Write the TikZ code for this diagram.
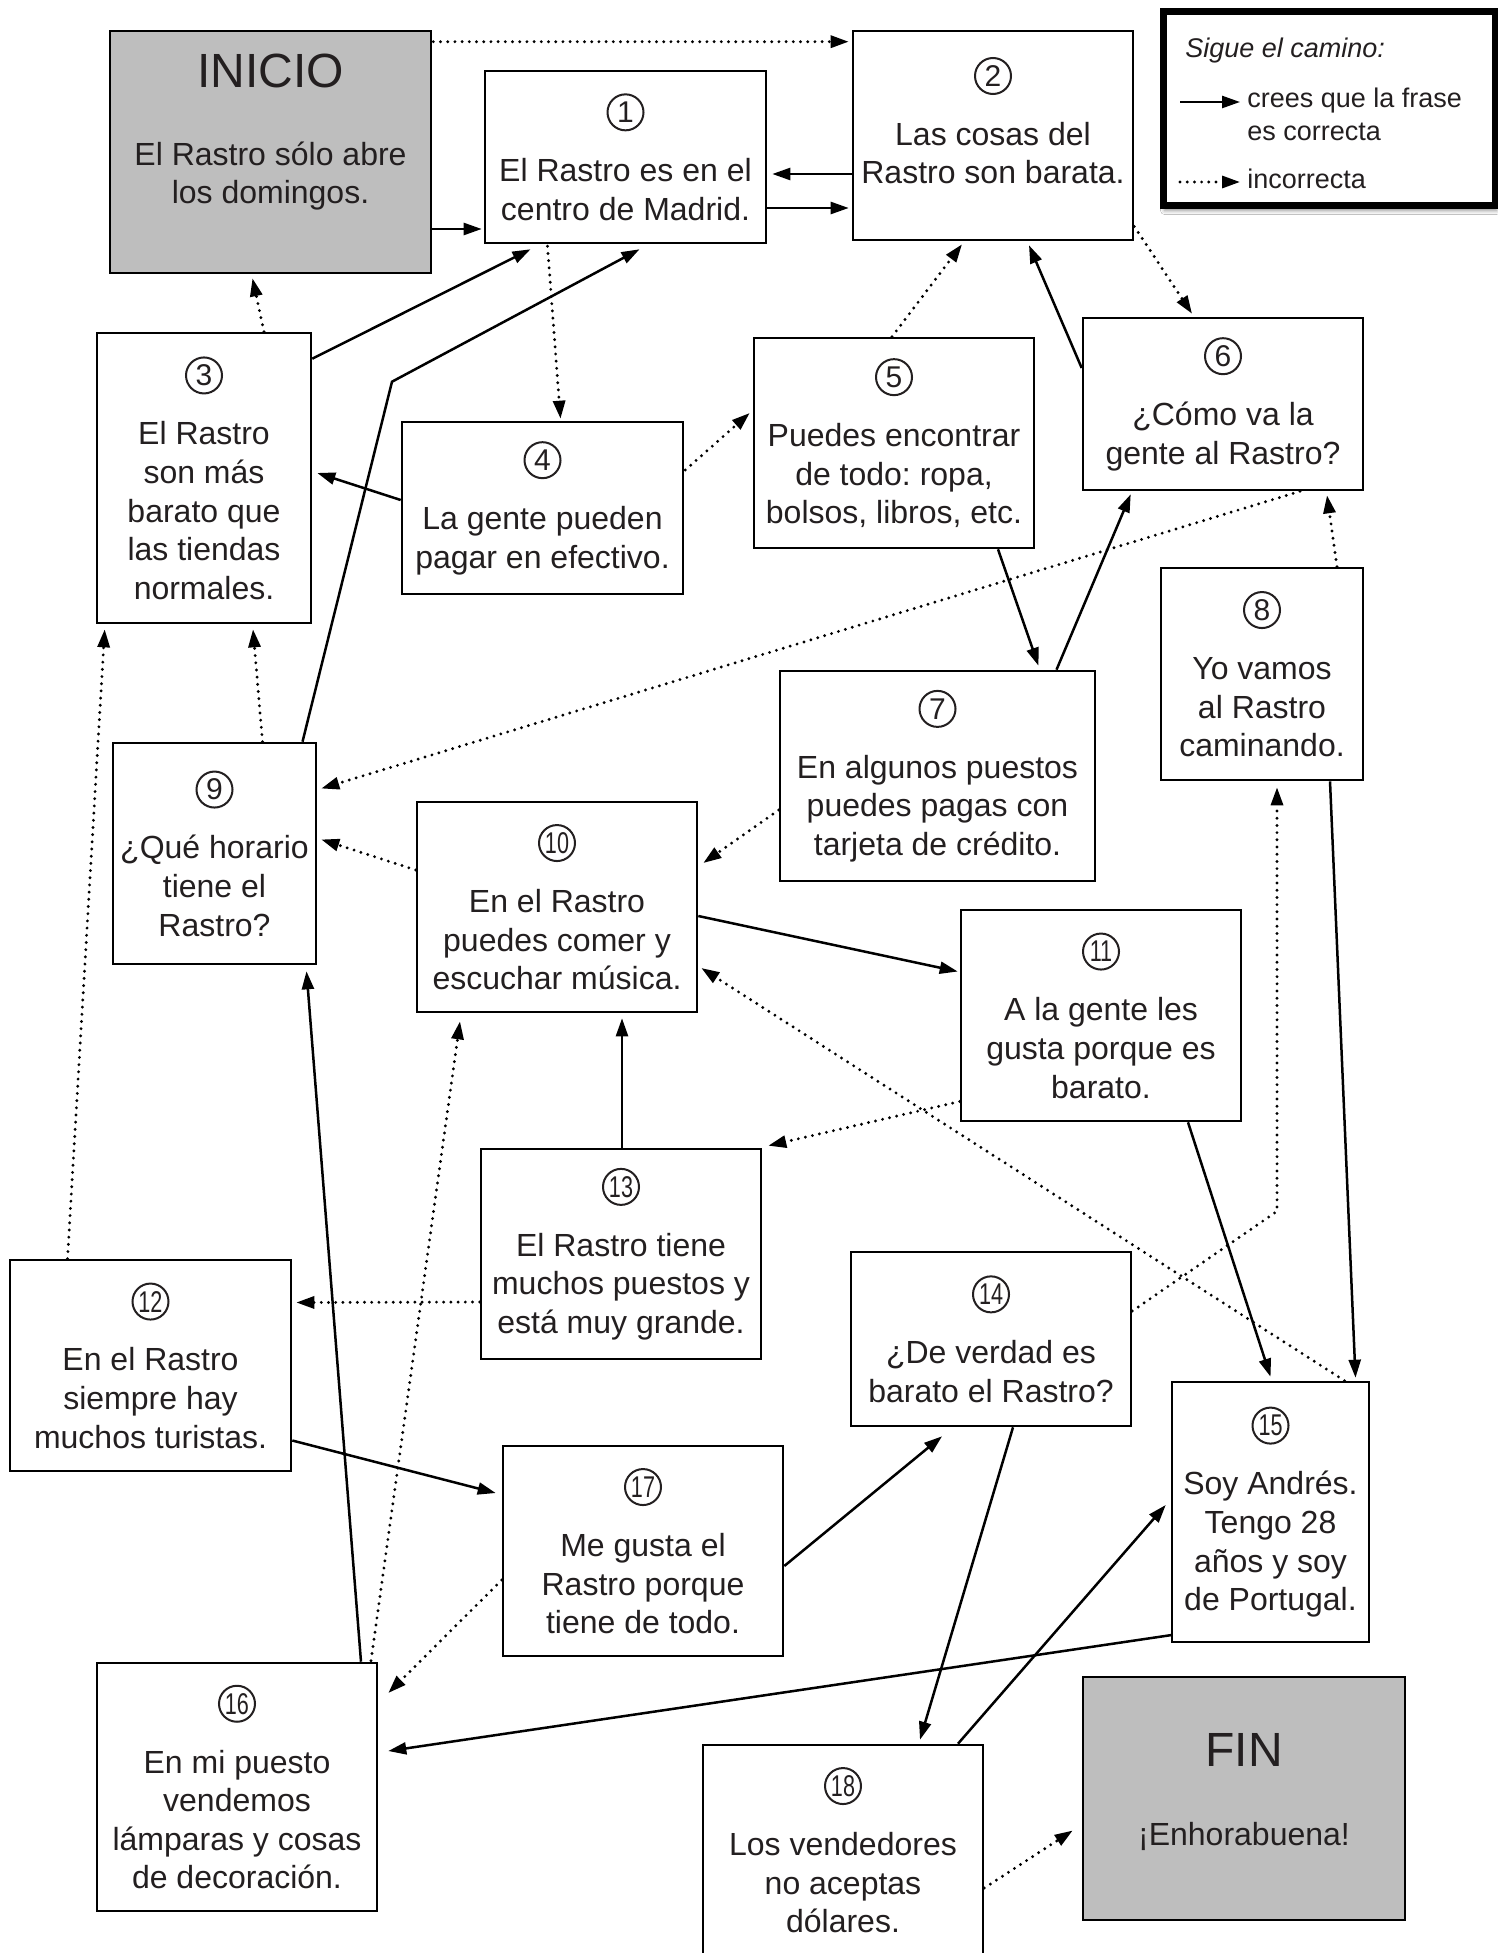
\documentclass[tikz,border=0pt]{standalone}
\usepackage{graphicx}
\usepackage{fontspec}
\setmainfont{Liberation Sans}
\frenchspacing
\usetikzlibrary{arrows.meta,calc,shadows.blur}
\definecolor{boxgray}{RGB}{190,190,190}
\definecolor{ink}{RGB}{35,31,32}
\newcommand{\circnum}[1]{\tikz[baseline={([yshift=-5.7pt]cn.center)}]
  \node[circle,draw,line width=1pt,minimum size=18pt,inner sep=0pt,
    font=\fontsize{15}{15}\selectfont] (cn)
    {\ifnum#1>9 \scalebox{0.72}[1]{#1}\else #1\fi};}

\begin{document}
\begin{tikzpicture}[x=0.5pt,y=-0.5pt,
    card/.style={draw,line width=1.3pt,align=center,inner sep=0pt,text=ink,
      font=\fontsize{16}{19.3}\selectfont,minimum width=140pt,minimum height=105pt},
    endcard/.style={card,fill=boxgray},
    ok/.style={line width=1.25pt,-{Triangle[length=9pt,width=6pt]}},
    nope/.style={line width=1.6pt,line cap=round,dash pattern=on 0pt off 3.6pt,
      -{Triangle[length=9pt,width=6pt]}},
    legtext/.style={text=ink,font=\fontsize{13.5}{16.5}\selectfont,align=left,inner sep=0pt}]
  %% Page
  \path[use as bounding box,fill=white] (0,0) rectangle (1498,1953);

  %% Legend
  \node[draw,line width=3.5pt,fill=white,minimum width=166pt,minimum height=97pt,inner sep=0pt,
    blur shadow={shadow xshift=0.5pt,shadow yshift=-2.5pt,shadow blur radius=2pt,shadow opacity=45}]
    (legend) at (1329.5,108.5) {};
  \node[legtext,anchor=west] (lgtitle) at (1185,51) {\itshape Sigue el camino:};
  \node[legtext,anchor=west] (lgok) at (1247,114) {crees que la frase\\es correcta};
  \node[legtext,anchor=west] (lgnope) at (1247,179) {incorrecta};
  \coordinate (lgokA) at (1180,102);
  \coordinate (lgokB) at (1240,102);
  \coordinate (lgnopeA) at (1180,182);
  \coordinate (lgnopeB) at (1240,182);
  \draw[ok] (lgokA) -- (lgokB);
  \draw[nope] (lgnopeA) -- (lgnopeB);

  %% Start and end
  \node[endcard,minimum width=160.5pt,minimum height=121pt,text depth=23pt] (inicio) at (270.5,152)
    {{\fontsize{24}{28}\selectfont INICIO}\\[19.3pt]El Rastro sólo abre\\los domingos.};
  \node[endcard,minimum width=161pt,minimum height=121.5pt,text depth=9pt] (fin) at (1244,1798.5)
    {{\fontsize{24}{28}\selectfont FIN}\\[19.8pt]¡Enhorabuena!};

  %% Cards
  \node[card,minimum width=140.5pt,minimum height=86pt] (b1) at (625.5,157)
    {\circnum{1}\\[9.7pt]El Rastro es en el\\centro de Madrid.};
  \node[card,minimum height=104.5pt,text depth=15pt] (b2) at (993,135.5)
    {\circnum{2}\\[9.7pt]Las cosas del\\Rastro son barata.};
  \node[card,minimum width=107pt,minimum height=145pt] (b3) at (204,478)
    {\circnum{3}\\[9.7pt]El Rastro\\son más\\barato que\\las tiendas\\normales.};
  \node[card,minimum width=140.5pt,minimum height=86pt] (b4) at (542.5,508)
    {\circnum{4}\\[9.7pt]La gente pueden\\pagar en efectivo.};
  \node[card] (b5) at (894,443)
    {\circnum{5}\\[9.7pt]Puedes encontrar\\de todo: ropa,\\bolsos, libros, etc.};
  \node[card,minimum height=86pt] (b6) at (1223,404)
    {\circnum{6}\\[9.7pt]¿Cómo va la\\gente al Rastro?};
  \node[card,minimum width=157.5pt] (b7) at (937.5,776)
    {\circnum{7}\\[9.7pt]En algunos puestos\\puedes pagas con\\tarjeta de crédito.};
  \node[card,minimum width=101pt,minimum height=106pt] (b8) at (1262,674)
    {\circnum{8}\\[9.7pt]Yo vamos\\al Rastro\\caminando.};
  \node[card,minimum width=101.5pt,minimum height=110.5pt] (b9) at (214.5,853.5)
    {\circnum{9}\\[9.7pt]¿Qué horario\\tiene el\\Rastro?};
  \node[card] (b10) at (557,907)
    {\circnum{10}\\[9.7pt]En el Rastro\\puedes comer y\\escuchar música.};
  \node[card,minimum height=105.5pt] (b11) at (1101,1015.5)
    {\circnum{11}\\[9.7pt]A la gente les\\gusta porque es\\barato.};
  \node[card,minimum width=140.5pt,minimum height=105.5pt] (b12) at (150.5,1365.5)
    {\circnum{12}\\[9.7pt]En el Rastro\\siempre hay\\muchos turistas.};
  \node[card] (b13) at (621,1254)
    {\circnum{13}\\[9.7pt]El Rastro tiene\\muchos puestos y\\está muy grande.};
  \node[card,minimum height=87pt] (b14) at (991,1339)
    {\circnum{14}\\[9.7pt]¿De verdad es\\barato el Rastro?};
  \node[card,minimum width=98.5pt,minimum height=130pt] (b15) at (1270.5,1512)
    {\circnum{15}\\[9.7pt]Soy Andrés.\\Tengo 28\\años y soy\\de Portugal.};
  \node[card,minimum height=124pt] (b16) at (237,1787)
    {\circnum{16}\\[9.7pt]En mi puesto\\vendemos\\lámparas y cosas\\de decoración.};
  \node[card] (b17) at (643,1551)
    {\circnum{17}\\[9.7pt]Me gusta el\\Rastro porque\\tiene de todo.};
  \node[card] (b18) at (843,1850)
    {\circnum{18}\\[9.7pt]Los vendedores\\no aceptas\\dólares.};

  %% Correct
  \draw[ok] ($(inicio.east)+(0,77)$) -- ($(b1.west)+(-2,72)$);
  \draw[ok] ($(b2.west)+(0,38.5)$) -- ($(b1.east)+(5,17)$);
  \draw[ok] ($(b1.east)+(0,51)$) -- ($(b2.west)+(-3,72.5)$);
  \draw[ok] ($(b3.north east)+(0,27)$) -- ($(b1.south)+(-95,5)$);
  \draw[ok] ($(b9.north)+(88,0)$) -- ($(b9.north)+(177.5,-360)$) -- ($(b1.south)+(14,5)$);
  \draw[ok] ($(b4.west)+(0,-8)$) -- ($(b3.east)+(5,-5)$);
  \draw[ok] ($(b6.west)+(0,-36)$) -- ($(b2.south)+(36,4)$);
  \draw[ok] ($(b5.south)+(104,0)$) -- ($(b7.north)+(101,-4)$);
  \draw[ok] ($(b7.north)+(119,0)$) -- ($(b6.south west)+(49,3)$);
  \draw[ok] ($(b10.east)+(0,9)$) -- ($(b11.west)+(-2,-44)$);
  \draw[ok] ($(b13.north)+(1,0)$) -- ($(b10.south)+(65,5)$);
  \draw[ok] ($(b11.south)+(87,0)$) -- ($(b15.north)+(0,-4)$);
  \draw[ok] ($(b8.south)+(68,0)$) -- ($(b15.north)+(85,-3)$);
  \draw[ok] ($(b16.north)+(124,0)$) -- ($(b9.south)+(92,6)$);
  \draw[ok] ($(b12.east)+(0,75)$) -- ($(b17.west)+(-6,-58)$);
  \draw[ok] ($(b17.east)+(0,15)$) -- ($(b14.south)+(-49,9)$);
  \draw[ok] ($(b14.south)+(22,0)$) -- ($(b18.north)+(77,-4)$);
  \draw[ok] ($(b18.north)+(115,0)$) -- ($(b15.west)+(-5,-7)$);
  \draw[ok] ($(b15.west)+(1,123)$) -- ($(b16.east)+(10,-36)$);

  %% Incorrect
  \draw[nope] ($(inicio.north east)+(1,12)$) -- ($(b2.north west)+(-3,12)$);
  \draw[nope] ($(b3.north)+(60,0)$) -- ($(inicio.south)+(-18,4)$);
  \draw[nope] ($(b1.south)+(-78,2)$) -- ($(b4.north)+(18,-2)$);
  \draw[nope] ($(b4.east)+(1,-38)$) -- ($(b5.west)+(-3,-30)$);
  \draw[nope] ($(b5.north)+(-2,0)$) -- ($(b2.south)+(-31,3)$);
  \draw[nope] ($(b2.east)+(0,91)$) -- ($(b6.north)+(-31,-3)$);
  \draw[nope] ($(b8.north)+(75,0)$) -- ($(b6.south)+(104,4)$);
  \draw[nope] ($(b6.south)+(77,0)$) -- ($(b9.east)+(4,-65)$);
  \draw[nope] ($(b9.north)+(48,0)$) -- ($(b3.south)+(49,5)$);
  \draw[nope] ($(b12.north)+(-83,0)$) -- ($(b3.south west)+(9,5)$);
  \draw[nope] ($(b7.west)+(0,34)$) -- ($(b10.east)+(5,-44)$);
  \draw[nope] ($(b10.west)+(0,-37)$) -- ($(b9.east)+(4,-14)$);
  \draw[nope] ($(b11.west)+(0,86)$) -- ($(b13.north east)+(6,-2)$);
  \draw[nope] ($(b13.west)+(0,48)$) -- ($(b12.east)+(4,-63)$);
  \draw[nope] ($(b15.north)+(74,0)$) -- ($(b10.east)+(3,61)$);
  \draw[nope] ($(b14.east)+(0,-28)$) -- ($(b8.south)+(15,430)$) -- ($(b8.south)+(15,6)$);
  \draw[nope] ($(b16.north)+(134,-1)$) -- ($(b10.south)+(-97,8)$);
  \draw[nope] ($(b17.west)+(0,29)$) -- ($(b16.east)+(10,-94)$);
  \draw[nope] ($(b18.east)+(0,38)$) -- ($(fin.west)+(-9,32)$);
\end{tikzpicture}
\end{document}
